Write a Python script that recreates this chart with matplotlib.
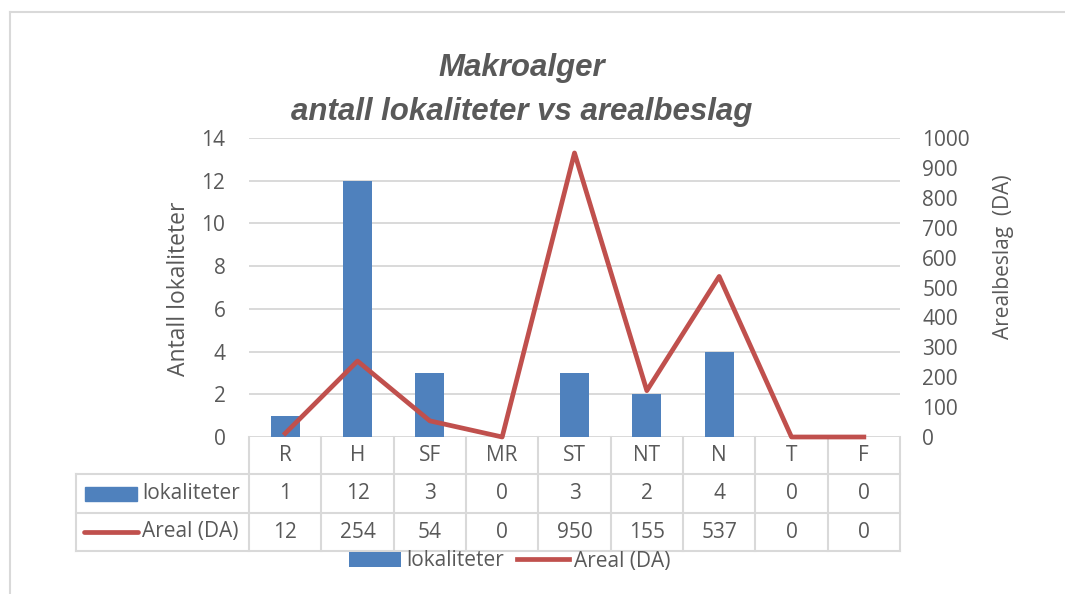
import matplotlib
matplotlib.use("Agg")
import matplotlib.pyplot as plt
import matplotlib.transforms as mtransforms
from matplotlib.lines import Line2D
from matplotlib.patches import Rectangle
import numpy as np

plt.rcParams["font.family"] = ["Open Sans", "DejaVu Sans"]

categories = ["R", "H", "SF", "MR", "ST", "NT", "N", "T", "F"]
lokaliteter = [1, 12, 3, 0, 3, 2, 4, 0, 0]
areal = [12, 254, 54, 0, 950, 155, 537, 0, 0]
left_ticks = list(range(0, 15, 2))
right_ticks = list(range(0, 1001, 100))

BAR_BLUE = "#4f81bd"
LINE_RED = "#c0504d"
INK = "#595959"
GRID = "#d9d9d9"

W, H = 1065, 594


def fx(px):
    return px / W


def fy(py):
    return 1 - py / H


fig = plt.figure(figsize=(W / 100, H / 100), dpi=100)

# plot area in pixel terms of the reference
ax = fig.add_axes([fx(249), fy(437), (900 - 249) / W, (437 - 138) / H])
x = np.arange(len(categories))
bars = ax.bar(x, lokaliteter, width=0.4, color=BAR_BLUE, zorder=2)
ax.set_xlim(-0.5, len(categories) - 0.5)
ax.set_ylim(0, 14)
ax.set_yticks(left_ticks)
ax.set_xticks([])
ax.grid(axis="y", color=GRID, linewidth=1.4)
ax.set_axisbelow(True)
ax.tick_params(axis="y", length=0, pad=17, labelsize=15, labelcolor=INK)
for s in ax.spines.values():
    s.set_visible(False)

ax2 = ax.twinx()
(line,) = ax2.plot(x, areal, color=LINE_RED, linewidth=3.4, clip_on=False, zorder=3)
ax2.set_ylim(0, 1000)
ax2.set_yticks(right_ticks)
ax2.tick_params(axis="y", length=0, pad=16, labelsize=15, labelcolor=INK)
for s in ax2.spines.values():
    s.set_visible(False)

# data table under the plot (its top border is the 0 gridline)
trans = mtransforms.blended_transform_factory(ax.transData, fig.transFigure)
row_mid = [fy(455.5), fy(493.5), fy(532)]
for i, cat in enumerate(categories):
    ax.text(i, row_mid[0], cat, transform=trans, ha="center", va="center", fontsize=15, color=INK)
    ax.text(i, row_mid[1], str(lokaliteter[i]), transform=trans, ha="center", va="center", fontsize=15, color=INK)
    ax.text(i, row_mid[2], str(areal[i]), transform=trans, ha="center", va="center", fontsize=15, color=INK)

for k in range(len(categories) + 1):
    ax.add_line(Line2D([k - 0.5, k - 0.5], [fy(437), fy(551)], transform=trans,
                       color=GRID, linewidth=1.5, clip_on=False, zorder=1))
for yy in (474, 513, 551):
    fig.add_artist(Line2D([fx(76), fx(900)], [fy(yy), fy(yy)], color=GRID, linewidth=1.5))
fig.add_artist(Line2D([fx(76), fx(76)], [fy(474), fy(551)], color=GRID, linewidth=1.5))

fig.add_artist(Rectangle((fx(85), fy(501)), (137 - 85) / W, (501 - 487) / H,
                         transform=fig.transFigure, color=BAR_BLUE))
fig.text(fx(142), row_mid[1], "lokaliteter", ha="left", va="center", fontsize=15, color=INK)
fig.add_artist(Line2D([fx(84), fx(138)], [fy(532), fy(532)], color=LINE_RED,
                      linewidth=3.4, solid_capstyle="round"))
fig.text(fx(142), row_mid[2], "Areal (DA)", ha="left", va="center", fontsize=15, color=INK)

fig.legend([bars, line], ["lokaliteter", "Areal (DA)"], ncol=2, loc="center",
           bbox_to_anchor=(fx(510), fy(561)), frameon=False, fontsize=15,
           handlelength=2.5, handletextpad=0.25, columnspacing=0.6, borderpad=0,
           labelcolor=INK)

# axis titles and chart title
fig.text(fx(179), fy(289), "Antall lokaliteter", rotation=90, ha="center", va="center",
         fontsize=16.5, color=INK)
fig.text(fx(1003), fy(257), "Arealbeslag  (DA)", rotation=90, ha="center", va="center",
         fontsize=15, color=INK)
fig.text(fx(522), fy(53), "Makroalger\nantall lokaliteter vs arealbeslag", ha="center", va="top",
         fontsize=22.5, fontweight="bold", fontstyle="italic",
         family=["Liberation Sans Narrow", "Liberation Sans"], color=INK, linespacing=1.62)

# chart frame
fig.add_artist(Line2D([fx(10), 1], [fy(12), fy(12)], color=GRID, linewidth=1.5))
fig.add_artist(Line2D([fx(10), fx(10)], [fy(12), 0], color=GRID, linewidth=1.5))

fig.savefig("out.png", dpi=100)
